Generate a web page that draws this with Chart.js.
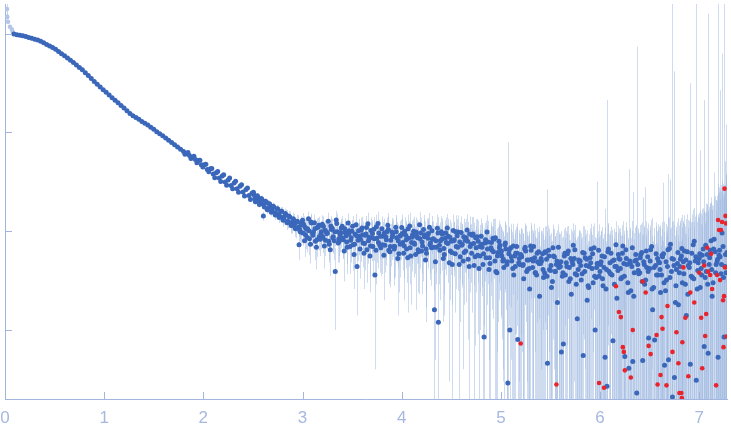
<!DOCTYPE html>
<html>
<head>
<meta charset="utf-8">
<script src="https://cdn.jsdelivr.net/npm/chart.js@4.4.0/dist/chart.umd.min.js"></script>
<style>
  html, body { margin: 0; padding: 0; background: #fff; }
  #wrap { width: 731px; height: 437px; }
</style>
</head>
<body>
<div id="wrap"><canvas id="chart"></canvas></div>
<script>
// axis ticks
const xTicks = [0, 1, 2, 3, 4, 5, 6, 7];
const yTicks = [1, 10, 100, 1000];

// excluded low-q points (drawn faded)
const qExcl = [0.02, 0.023, 0.03, 0.05, 0.07, 0.08];
const iExcl = [1780, 1480, 1320, 1175, 1100, 1030];
const eExcl = [260, 120, 60, 30, 15, 8];

// smooth part of the curve
const qSmooth = [
  0.09, 0.12, 0.15, 0.18, 0.21, 0.24, 0.27, 0.30, 0.33, 0.36,
  0.39, 0.42, 0.45, 0.48, 0.51, 0.54, 0.57, 0.60, 0.63, 0.66,
  0.69, 0.72, 0.75, 0.78, 0.81, 0.84, 0.87, 0.90, 0.93, 0.96,
  0.99, 1.02, 1.05, 1.08, 1.11, 1.14, 1.17, 1.20, 1.23, 1.26,
  1.29, 1.32, 1.35, 1.38, 1.41, 1.44, 1.47, 1.50, 1.53, 1.56,
  1.59, 1.62, 1.65, 1.68, 1.71, 1.74, 1.77, 1.80, 1.83, 1.86,
  1.89, 1.92, 1.95, 1.98, 2.01, 2.04, 2.07, 2.10, 2.13, 2.16,
  2.19, 2.22, 2.25, 2.28, 2.31, 2.34, 2.37, 2.40, 2.43, 2.46, 2.49
];
const iSmooth = [
  991, 977, 966, 953, 938, 918, 899, 881, 863, 841,
  809, 780, 752, 724, 695, 661, 628, 597, 569, 540,
  510, 483, 456, 432, 403, 377, 352, 329, 307, 288,
  271, 255, 240, 225, 212, 200, 188, 177, 166, 156,
  148, 142, 136, 129, 124, 119, 113, 108, 102, 97.3,
  92.5, 87.9, 83.4, 79.1, 75.0, 71.1, 67.5, 64.0, 61.1, 58.3,
  55.7, 53.2, 51.9, 47.0, 47.2, 42.1, 43.0, 38.0, 39.1, 34.6,
  36.2, 31.6, 33.1, 29.0, 30.8, 26.9, 28.6, 24.9, 26.5, 23.0, 24.3
];
const eSmooth = [
  6, 5, 5, 4, 4, 4, 4, 4, 3, 3,
  3, 3, 3, 3, 3, 3, 3, 2.5, 2.5, 2.5,
  2.5, 2.4, 2.3, 2.2, 2.1, 2, 1.9, 1.8, 1.7, 1.6,
  1.5, 1.5, 1.4, 1.4, 1.3, 1.3, 1.2, 1.2, 1.1, 1.1,
  1.0, 1.0, 1.0, 0.95, 0.95, 0.9, 0.9, 0.9, 0.85, 0.85,
  0.85, 0.8, 0.8, 0.8, 0.8, 0.8, 0.8, 0.8, 0.8, 0.8,
  0.8, 0.85, 0.85, 0.85, 0.9, 0.9, 0.9, 0.95, 0.95, 1.0,
  1.0, 1.0, 1.05, 1.05, 1.1, 1.1, 1.1, 1.15, 1.15, 1.2, 1.2
];
const qExtra = [
  1.815, 1.845, 1.875, 1.905, 1.935, 1.965, 1.995, 2.025, 2.055, 2.085,
  2.115, 2.145, 2.175, 2.205, 2.235, 2.265, 2.295, 2.325, 2.355, 2.385,
  2.415, 2.445, 2.475
];
const iExtra = [
  60.1, 62.8, 54.6, 57.3, 49.5, 52.4, 44.6, 47.6, 40.1, 43.2,
  34.8, 40.3, 31.8, 37.4, 29.2, 34.5, 26.9, 32.0, 24.8, 29.6,
  22.8, 27.4, 21.0
];
const eExtra = [
  0.8, 0.8, 0.8, 0.8, 0.8, 0.8, 0.8, 0.8, 0.8, 0.8,
  1.0, 1.0, 1.0, 1.0, 1.0, 1.0, 1.0, 1.0, 1.0, 1.0,
  1.0, 1.0, 1.0
];

// shoulder 2.5 - 3
const qMid = [
  2.51, 2.52, 2.53, 2.55, 2.56, 2.57, 2.59, 2.60, 2.61, 2.63,
  2.64, 2.65, 2.67, 2.68, 2.69, 2.71, 2.72, 2.73, 2.75, 2.76,
  2.77, 2.79, 2.80, 2.81, 2.83, 2.84, 2.85, 2.87, 2.88, 2.89,
  2.91, 2.92, 2.93, 2.95, 2.96, 2.97, 2.98, 2.99, 2.605, 2.965,
  2.505, 2.525, 2.545, 2.565, 2.585, 2.615, 2.625, 2.645, 2.665, 2.685,
  2.705, 2.725, 2.745, 2.765, 2.785, 2.805, 2.825, 2.845, 2.865, 2.885,
  2.905, 2.925, 2.945, 2.975, 2.985
];
const iMid = [
  23.4, 21.5, 20.8, 22.0, 20.2, 19.6, 21.0, 18.9, 18.5, 19.9,
  19.5, 17.0, 18.6, 17.9, 16.4, 17.5, 15.4, 15.0, 16.8, 15.0,
  14.2, 15.9, 13.8, 13.5, 14.8, 14.5, 12.6, 13.9, 12.2, 11.5,
  13.0, 11.8, 10.6, 12.4, 11.0, 10.5, 9.8, 11.6, 14.3, 7.3,
  24.8, 19.9, 22.9, 18.6, 21.5, 17.6, 20.1, 16.5, 19.0, 15.6,
  17.9, 14.6, 16.9, 13.8, 15.9, 12.9, 15.1, 12.2, 14.2, 11.4,
  13.4, 10.8, 12.6, 10.0, 12.0
];
const eMid = [
  1.2, 1.2, 1.2, 1.3, 1.3, 1.3, 1.3, 1.4, 1.4, 1.4,
  1.4, 1.5, 1.5, 1.5, 1.5, 1.6, 1.6, 1.6, 1.6, 1.7,
  1.7, 1.7, 1.8, 1.8, 1.8, 1.9, 1.9, 1.9, 2.0, 2.0,
  2.0, 2.1, 2.1, 2.1, 2.2, 2.2, 2.2, 2.2, 1.5, 2.2,
  1.2, 1.2, 1.3, 1.3, 1.3, 1.4, 1.4, 1.5, 1.5, 1.5,
  1.6, 1.6, 1.6, 1.7, 1.7, 1.8, 1.8, 1.9, 1.9, 2.0,
  2.0, 2.1, 2.1, 2.2, 2.2
];

// noisy tail, odd hundredths
const qTailA = [
  3.01, 3.03, 3.05, 3.07, 3.09, 3.11, 3.13, 3.15, 3.17, 3.19,
  3.21, 3.23, 3.25, 3.27, 3.29, 3.31, 3.33, 3.35, 3.37, 3.39,
  3.41, 3.43, 3.45, 3.47, 3.49, 3.51, 3.53, 3.55, 3.57, 3.59,
  3.61, 3.63, 3.65, 3.67, 3.69, 3.71, 3.73, 3.75, 3.77, 3.79,
  3.81, 3.83, 3.85, 3.87, 3.89, 3.91, 3.93, 3.95, 3.97, 3.99,
  4.01, 4.03, 4.05, 4.07, 4.09, 4.11, 4.13, 4.15, 4.17, 4.19,
  4.21, 4.23, 4.25, 4.27, 4.29, 4.31, 4.33, 4.35, 4.37, 4.39,
  4.41, 4.43, 4.45, 4.47, 4.49, 4.51, 4.53, 4.55, 4.57, 4.59,
  4.61, 4.63, 4.65, 4.67, 4.69, 4.71, 4.73, 4.75, 4.77, 4.79,
  4.81, 4.83, 4.85, 4.87, 4.89, 4.91, 4.93, 4.95, 4.97, 4.99,
  5.01, 5.03, 5.05, 5.07, 5.09, 5.11, 5.13, 5.15, 5.17, 5.19,
  5.21, 5.23, 5.25, 5.27, 5.29, 5.31, 5.33, 5.35, 5.37, 5.39,
  5.41, 5.43, 5.45, 5.47, 5.49, 5.51, 5.53, 5.55, 5.57, 5.59,
  5.61, 5.63, 5.65, 5.67, 5.69, 5.71, 5.73, 5.75, 5.77, 5.79,
  5.81, 5.83, 5.85, 5.87, 5.89, 5.91, 5.93, 5.95, 5.97, 5.99,
  6.01, 6.03, 6.05, 6.07, 6.09, 6.11, 6.13, 6.15, 6.17, 6.19,
  6.21, 6.23, 6.25, 6.27, 6.29, 6.31, 6.33, 6.35, 6.37, 6.39,
  6.41, 6.43, 6.45, 6.47, 6.49, 6.51, 6.53, 6.55, 6.57, 6.59,
  6.61, 6.63, 6.65, 6.67, 6.69, 6.71, 6.73, 6.75, 6.77, 6.79,
  6.81, 6.83, 6.85, 6.87, 6.89, 6.91, 6.93, 6.95, 6.97, 6.99,
  7.01, 7.03, 7.05, 7.07, 7.09, 7.11, 7.13, 7.15, 7.17, 7.19,
  7.21, 7.23, 7.25, 7.27
];
const iTailA = [
  11.8, 9.2, 10.6, 8.4, 12.1, 9.8, 7.9, 10.9, 8.8, 9.9,
  11.2, 8.1, 9.6, 7.4, 10.4, 8.8, 3.9, 9.9, 7.9, 10.8,
  8.2, 9.7, 6.9, 10.1, 8.6, 7.3, 9.3, 4.4, 8.9, 10.3,
  7.6, 9.1, 6.5, 8.7, 10.2, 7.0, 3.6, 8.5, 9.6, 6.8,
  8.9, 7.2, 9.9, 6.4, 8.1, 9.4, 7.0, 8.6, 5.9, 9.1,
  7.7, 10.0, 6.6, 8.5, 5.6, 9.2, 7.4, 8.9, 6.2, 9.6,
  7.1, 8.8, 6.0, 9.5, 7.6, 8.3, 1.6, 6.9, 1.2, 8.0,
  9.3, 5.8, 7.7, 8.9, 6.3, 4.6, 8.2, 7.0, 9.8, 5.5,
  7.4, 6.1, 8.6, 5.2, 7.0, 9.1, 4.5, 6.8, 7.9, 5.6,
  6.9, 0.85, 5.4, 7.8, 4.7, 6.4, 8.3, 3.9, 6.1, 7.2,
  5.6, 4.3, 6.6, 0.29, 1.0, 5.0, 3.6, 6.0, 0.8, 4.6,
  5.5, 3.3, 6.3, 4.1, 2.6, 5.2, 7.0, 3.8, 4.9, 2.2,
  5.0, 3.4, 6.1, 0.46, 4.1, 2.7, 5.6, 3.9, 1.9, 4.8,
  0.6, 0.72, 3.6, 5.9, 4.3, 2.3, 7.2, 3.7, 1.3, 4.9,
  3.2, 0.55, 5.4, 2.0, 4.4, 6.6, 3.0, 1.0, 4.7, 3.5,
  4.9, 2.8, 0.53, 0.27, 3.9, 6.0, 0.78, 4.4, 2.1, 5.3,
  3.3, 7.1, 0.54, 4.6, 0.41, 2.5, 0.48, 5.0, 0.23, 3.7,
  5.8, 0.49, 2.9, 4.3, 0.83, 6.5, 1.6, 0.79, 3.6, 4.9,
  2.4, 5.5, 0.44, 3.2, 0.50, 7.4, 0.21, 0.33, 4.1, 1.8,
  5.2, 3.0, 6.3, 1.4, 4.5, 0.45, 3.4, 7.9, 0.31, 4.8,
  2.7, 5.7, 0.68, 3.9, 0.58, 6.4, 2.2, 8.3, 4.6, 0.53,
  5.5, 9.6, 0.85, 3.8
];
const eTailA = [
  2.4, 2.6, 2.3, 2.7, 2.5, 2.2, 2.8, 2.6, 2.4, 2.7,
  2.9, 2.5, 2.8, 2.6, 3.0, 2.7, 2.9, 2.8, 3.1, 2.6,
  3.0, 2.8, 3.2, 2.9, 3.1, 3.3, 2.9, 3.0, 3.2, 3.4,
  3.3, 3.1, 3.5, 3.2, 3.6, 3.4, 3.2, 3.7, 3.5, 3.3,
  3.6, 3.4, 3.8, 3.5, 3.7, 3.9, 3.6, 3.8, 3.5, 4.0,
  3.7, 3.9, 3.6, 4.1, 3.8, 4.0, 3.7, 4.2, 3.9, 4.1,
  4.0, 3.8, 4.3, 4.1, 3.9, 4.2, 5.5, 4.0, 6.0, 4.3,
  4.2, 4.4, 4.1, 4.5, 4.3, 4.6, 4.2, 4.4, 4.7, 4.3,
  4.5, 4.3, 4.7, 4.4, 4.6, 4.8, 4.5, 4.4, 4.9, 4.6,
  4.7, 6.5, 4.6, 4.9, 4.7, 4.8, 5.0, 4.6, 4.9, 4.7,
  4.8, 4.6, 5.0, 79, 5.5, 4.9, 4.7, 5.1, 5.6, 4.8,
  4.9, 4.7, 5.1, 4.8, 5.0, 5.2, 4.9, 4.7, 5.0, 4.8,
  5.0, 4.8, 5.1, 26, 4.9, 5.2, 4.8, 5.0, 5.1, 4.9,
  5.5, 5.4, 4.9, 5.2, 5.0, 5.1, 4.8, 5.0, 5.3, 4.9,
  5.1, 5.6, 5.0, 5.2, 4.9, 5.3, 5.1, 5.0, 27, 5.2,
  5.2, 5.4, 16.3, 213, 5.5, 5.1, 5.8, 5.4, 5.6, 5.3,
  5.7, 5.5, 5.9, 5.6, 42, 6.0, 24.5, 5.9, 740, 5.8,
  6.0, 21.5, 25, 6.4, 6.2, 6.5, 6.3, 6.6, 6.4, 6.2,
  6.5, 25.5, 6.6, 7.0, 37, 26, 2000, 415, 7.0, 7.3,
  7.6, 7.9, 8.2, 8.0, 8.5, 315, 9.0, 9.3, 2000, 10,
  63, 11, 212, 12, 1600, 13, 14, 31, 16, 2000,
  262, 620, 2000, 116
];

// noisy tail, even hundredths (wider scatter)
const qTailB = [
  3.00, 3.02, 3.04, 3.06, 3.08, 3.10, 3.12, 3.14, 3.16, 3.18,
  3.20, 3.22, 3.24, 3.26, 3.28, 3.30, 3.32, 3.34, 3.36, 3.38,
  3.40, 3.42, 3.44, 3.46, 3.48, 3.50, 3.52, 3.54, 3.56, 3.58,
  3.60, 3.62, 3.64, 3.66, 3.68, 3.70, 3.72, 3.74, 3.76, 3.78,
  3.80, 3.82, 3.84, 3.86, 3.88, 3.90, 3.92, 3.94, 3.96, 3.98,
  4.00, 4.02, 4.04, 4.06, 4.08, 4.10, 4.12, 4.14, 4.16, 4.18,
  4.20, 4.22, 4.24, 4.26, 4.28, 4.30, 4.32, 4.34, 4.36, 4.38,
  4.40, 4.42, 4.44, 4.46, 4.48, 4.50, 4.52, 4.54, 4.56, 4.58,
  4.60, 4.62, 4.64, 4.66, 4.68, 4.70, 4.72, 4.74, 4.76, 4.78,
  4.80, 4.82, 4.84, 4.86, 4.88, 4.90, 4.92, 4.94, 4.96, 4.98,
  5.00, 5.02, 5.04, 5.06, 5.08, 5.10, 5.12, 5.14, 5.16, 5.18,
  5.20, 5.22, 5.24, 5.26, 5.28, 5.30, 5.32, 5.34, 5.36, 5.38,
  5.40, 5.42, 5.44, 5.46, 5.48, 5.50, 5.52, 5.54, 5.56, 5.58,
  5.60, 5.62, 5.64, 5.66, 5.68, 5.70, 5.72, 5.74, 5.76, 5.78,
  5.80, 5.82, 5.84, 5.86, 5.88, 5.90, 5.92, 5.94, 5.96, 5.98,
  6.00, 6.02, 6.04, 6.06, 6.08, 6.10, 6.12, 6.14, 6.16, 6.18,
  6.20, 6.22, 6.24, 6.26, 6.28, 6.30, 6.32, 6.34, 6.36, 6.38,
  6.40, 6.42, 6.44, 6.46, 6.48, 6.50, 6.52, 6.54, 6.56, 6.58,
  6.60, 6.62, 6.64, 6.66, 6.68, 6.70, 6.72, 6.74, 6.76, 6.78,
  6.80, 6.82, 6.84, 6.86, 6.88, 6.90, 6.92, 6.94, 6.96, 6.98,
  7.00, 7.02, 7.04, 7.06, 7.08, 7.10, 7.12, 7.14, 7.16, 7.18,
  7.20, 7.22, 7.24, 7.26, 7.28
];
const iTailB = [
  12.9, 8.0, 10.5, 13.4, 7.4, 9.6, 12.2, 6.9, 11.1, 8.3,
  11.8, 7.1, 9.9, 12.6, 6.5, 10.7, 8.0, 13.0, 7.6, 9.2,
  11.2, 6.3, 9.0, 12.1, 7.0, 10.0, 5.8, 11.6, 8.1, 6.6,
  10.8, 6.0, 9.4, 11.9, 5.6, 8.6, 10.5, 6.4, 12.0, 7.2,
  10.6, 5.7, 8.8, 11.5, 6.2, 9.8, 7.0, 11.0, 5.3, 8.9,
  10.9, 6.0, 9.1, 5.4, 11.3, 7.7, 10.0, 5.8, 8.6, 11.6,
  6.3, 10.4, 5.1, 9.3, 11.0, 6.8, 8.4, 4.9, 10.7, 7.2,
  9.9, 5.3, 8.5, 10.8, 4.8, 7.9, 10.2, 5.9, 9.0, 4.6,
  9.7, 5.0, 8.1, 10.3, 4.4, 7.4, 9.4, 5.5, 8.8, 4.2,
  8.9, 4.6, 7.6, 9.8, 4.1, 6.8, 8.5, 5.0, 3.8, 7.9,
  6.1, 5.0, 7.3, 4.6, 5.9, 6.8, 4.2, 5.6, 7.0, 4.8,
  5.8, 4.5, 6.6, 3.9, 5.1, 7.1, 4.3, 5.4, 3.6, 6.2,
  4.7, 5.9, 3.8, 5.2, 6.4, 4.0, 3.1, 5.5, 4.6, 6.9,
  4.4, 3.5, 5.6, 4.8, 6.3, 3.3, 4.9, 5.3, 2.9, 4.1,
  5.0, 3.7, 6.0, 4.5, 2.8, 5.4, 4.2, 6.8, 3.4, 4.7,
  3.9, 5.6, 4.3, 2.6, 6.2, 4.8, 3.6, 5.1, 7.3, 4.0,
  5.2, 3.4, 4.7, 6.5, 3.0, 5.0, 4.4, 2.2, 5.8, 4.6,
  3.8, 6.1, 4.9, 3.2, 5.5, 4.2, 7.0, 2.7, 4.5, 5.3,
  4.8, 3.6, 5.9, 2.5, 4.4, 6.7, 3.9, 5.2, 1.9, 4.7,
  3.8, 5.6, 4.9, 2.9, 6.2, 4.3, 3.5, 7.3, 5.0, 2.6,
  5.3, 4.2, 6.6, 3.4, 5.8, 4.6, 8.0, 3.0, 6.2, 4.9,
  5.7, 3.7, 7.0, 4.4, 6.1
];
const eTailB = [
  2.4, 2.5, 2.6, 2.4, 2.7, 2.5, 2.6, 2.8, 2.5, 2.7,
  2.7, 2.9, 2.6, 2.8, 3.0, 2.7, 2.9, 3.0, 2.8, 3.1,
  3.0, 3.2, 2.9, 3.1, 3.3, 3.0, 3.2, 3.4, 3.1, 3.3,
  3.2, 3.4, 3.3, 3.5, 3.2, 3.6, 3.4, 3.5, 3.7, 3.4,
  3.5, 3.7, 3.6, 3.8, 3.5, 3.9, 3.7, 3.6, 3.9, 3.8,
  3.8, 4.0, 3.7, 3.9, 4.1, 3.8, 4.0, 4.2, 3.9, 4.1,
  4.0, 4.2, 3.9, 4.1, 4.3, 4.0, 4.2, 4.4, 4.1, 4.3,
  4.3, 4.1, 4.4, 4.2, 4.5, 4.3, 4.6, 4.4, 4.2, 4.5,
  4.4, 4.6, 4.3, 4.5, 4.7, 4.4, 4.6, 4.8, 4.5, 4.7,
  4.6, 4.8, 4.5, 4.7, 4.9, 4.6, 4.8, 5.0, 4.7, 4.9,
  4.8, 4.7, 4.9, 5.0, 4.8, 5.1, 4.9, 4.7, 5.0, 4.8,
  4.9, 5.0, 4.8, 5.1, 4.9, 5.0, 5.2, 4.8, 5.0, 4.9,
  5.0, 4.9, 5.1, 4.8, 5.0, 5.2, 4.9, 5.1, 5.0, 4.8,
  5.0, 5.1, 4.9, 5.2, 5.0, 4.8, 5.1, 5.0, 5.2, 4.9,
  5.1, 5.0, 5.2, 4.9, 5.1, 5.3, 5.0, 5.2, 5.1, 5.3,
  5.2, 5.4, 5.1, 5.3, 5.5, 5.2, 5.4, 5.6, 5.3, 5.5,
  5.5, 5.7, 5.4, 5.8, 5.6, 5.9, 5.7, 6.0, 5.8, 6.1,
  6.0, 6.2, 6.4, 6.1, 6.5, 6.3, 6.6, 6.4, 6.7, 6.5,
  6.7, 6.9, 6.6, 7.1, 6.8, 7.2, 7.0, 7.4, 7.1, 7.5,
  7.6, 8.0, 7.8, 8.3, 8.6, 8.4, 8.9, 9.3, 9.1, 9.8,
  10, 11, 10.5, 12, 12.5, 13, 14, 15, 16.5, 18,
  19, 21, 23, 25, 27
];

// noisy tail, in-between points
const qTailC = [
  3.005, 3.025, 3.045, 3.065, 3.085, 3.105, 3.125, 3.145, 3.165, 3.185,
  3.205, 3.225, 3.245, 3.265, 3.285, 3.305, 3.325, 3.345, 3.365, 3.385,
  3.405, 3.425, 3.445, 3.465, 3.485, 3.505, 3.525, 3.545, 3.565, 3.585,
  3.605, 3.625, 3.645, 3.665, 3.685, 3.705, 3.725, 3.745, 3.765, 3.785,
  3.805, 3.825, 3.845, 3.865, 3.885, 3.905, 3.925, 3.945, 3.965, 3.985,
  4.005, 4.025, 4.045, 4.065, 4.085, 4.105, 4.125, 4.145, 4.165, 4.185,
  4.205, 4.225, 4.245, 4.265, 4.285, 4.305, 4.325, 4.345, 4.365, 4.385,
  4.405, 4.425, 4.445, 4.465, 4.485, 4.505, 4.525, 4.545, 4.565, 4.585,
  4.605, 4.625, 4.645, 4.665, 4.685, 4.705, 4.725, 4.745, 4.765, 4.785,
  4.805, 4.825, 4.845, 4.865, 4.885, 4.905, 4.925, 4.945, 4.965, 4.985,
  5.005, 5.025, 5.045, 5.065, 5.085, 5.105, 5.125, 5.145, 5.165, 5.185,
  5.205, 5.225, 5.245, 5.265, 5.285, 5.305, 5.325, 5.345, 5.365, 5.385,
  5.405, 5.425, 5.445, 5.465, 5.485, 5.505, 5.525, 5.545, 5.565, 5.585,
  5.605, 5.625, 5.645, 5.665, 5.685, 5.705, 5.725, 5.745, 5.765, 5.785,
  5.805, 5.825, 5.845, 5.865, 5.885, 5.905, 5.925, 5.945, 5.965, 5.985,
  6.005, 6.025, 6.045, 6.065, 6.085, 6.105, 6.125, 6.145, 6.165, 6.185,
  6.205, 6.225, 6.245, 6.265, 6.285, 6.305, 6.325, 6.345, 6.365, 6.385,
  6.405, 6.425, 6.445, 6.465, 6.485, 6.505, 6.525, 6.545, 6.565, 6.585,
  6.605, 6.625, 6.645, 6.665, 6.685, 6.705, 6.725, 6.745, 6.765, 6.785,
  6.805, 6.825, 6.845, 6.865, 6.885, 6.905, 6.925, 6.945, 6.965, 6.985,
  7.005, 7.025, 7.045, 7.065, 7.085, 7.105, 7.125, 7.145, 7.165, 7.185,
  7.205, 7.225, 7.245, 7.265
];
const iTailC = [
  9.6, 11.0, 8.7, 10.1, 12.4, 9.1, 10.6, 8.2, 11.5, 9.4,
  8.8, 10.3, 9.5, 7.9, 11.3, 8.6, 9.9, 12.0, 8.4, 9.7,
  8.5, 10.6, 7.8, 9.4, 8.1, 11.2, 7.4, 9.0, 10.1, 8.3,
  9.2, 7.5, 10.9, 8.0, 7.1, 9.5, 8.4, 11.1, 7.7, 8.9,
  7.3, 9.6, 8.2, 10.4, 7.0, 8.8, 6.6, 9.9, 8.0, 7.4,
  9.5, 7.1, 8.2, 10.6, 6.8, 8.7, 7.6, 9.8, 6.5, 8.4,
  7.8, 9.2, 6.6, 8.5, 7.3, 10.1, 6.9, 8.0, 9.6, 6.4,
  8.3, 6.7, 9.6, 7.5, 8.7, 6.1, 8.0, 9.9, 6.9, 7.8,
  7.2, 8.8, 6.3, 7.9, 9.4, 6.0, 7.5, 8.6, 5.7, 7.0,
  7.4, 5.9, 8.2, 6.6, 5.4, 7.7, 6.2, 8.6, 5.6, 6.8,
  6.3, 5.2, 7.6, 4.9, 6.5, 5.5, 7.1, 4.4, 6.0, 5.3,
  5.7, 4.6, 6.9, 5.1, 4.2, 6.4, 5.0, 3.8, 6.0, 4.7,
  5.3, 4.1, 6.2, 3.5, 5.6, 4.5, 6.8, 3.9, 5.0, 4.3,
  4.9, 3.8, 6.0, 4.4, 3.1, 5.3, 4.6, 6.5, 3.6, 5.1,
  4.5, 6.1, 3.9, 5.2, 2.7, 4.8, 5.9, 3.5, 4.3, 6.4,
  4.6, 3.3, 5.5, 4.1, 6.6, 3.7, 5.0, 2.9, 4.4, 5.8,
  4.2, 6.0, 3.5, 5.3, 2.4, 4.7, 6.8, 3.8, 5.1, 4.0,
  5.4, 3.1, 4.6, 6.3, 3.9, 5.0, 2.6, 4.3, 5.9, 3.6,
  4.1, 5.7, 3.0, 4.9, 6.5, 3.4, 5.3, 4.5, 2.8, 6.1,
  4.4, 6.7, 3.7, 5.1, 2.3, 4.8, 6.0, 3.3, 5.5, 4.0,
  5.9, 3.6, 4.9, 7.2, 2.9, 5.4, 4.1, 6.6, 3.8, 5.2,
  6.4, 4.6, 3.4, 5.8
];
const eTailC = [
  2.5, 2.4, 2.6, 2.5, 2.7, 2.4, 2.6, 2.7, 2.5, 2.8,
  2.8, 2.7, 2.9, 2.8, 3.0, 2.7, 2.9, 3.1, 2.8, 3.0,
  3.1, 3.0, 3.2, 3.0, 3.3, 3.1, 3.2, 3.3, 3.2, 3.4,
  3.3, 3.5, 3.4, 3.3, 3.6, 3.5, 3.4, 3.6, 3.5, 3.7,
  3.6, 3.8, 3.7, 3.6, 3.9, 3.7, 3.8, 3.9, 3.7, 4.0,
  3.9, 3.8, 4.0, 4.1, 3.9, 4.0, 4.2, 4.0, 4.1, 4.2,
  4.1, 4.0, 4.2, 4.3, 4.1, 4.2, 4.4, 4.2, 4.3, 4.4,
  4.3, 4.4, 4.2, 4.5, 4.4, 4.3, 4.5, 4.6, 4.4, 4.5,
  4.5, 4.6, 4.4, 4.6, 4.7, 4.5, 4.7, 4.6, 4.8, 4.6,
  4.7, 4.8, 4.6, 4.8, 4.9, 4.7, 4.9, 4.8, 5.0, 4.8,
  4.9, 4.8, 5.0, 4.9, 4.7, 5.0, 4.8, 5.1, 4.9, 5.0,
  5.0, 4.9, 5.1, 4.8, 5.0, 4.9, 5.1, 5.0, 4.8, 5.0,
  4.9, 5.1, 5.0, 4.8, 5.0, 5.1, 4.9, 5.0, 5.2, 4.9,
  5.1, 5.0, 4.9, 5.1, 5.0, 5.2, 4.9, 5.1, 5.0, 5.2,
  5.0, 5.2, 5.1, 5.0, 5.2, 5.1, 5.3, 5.2, 5.1, 5.3,
  5.3, 5.2, 5.4, 5.3, 5.5, 5.4, 5.3, 5.5, 5.4, 5.6,
  5.6, 5.5, 5.7, 5.6, 5.8, 5.7, 5.9, 5.8, 6.0, 5.9,
  6.1, 6.0, 6.2, 6.3, 6.2, 6.4, 6.3, 6.5, 6.4, 6.6,
  6.8, 6.7, 6.9, 7.0, 6.9, 7.1, 7.2, 7.1, 7.3, 7.4,
  7.7, 7.9, 8.1, 8.2, 8.5, 8.7, 8.8, 9.2, 9.4, 9.7,
  10.2, 10.8, 11.3, 11.9, 12.6, 13.4, 14.3, 15.5, 16.8, 18.5,
  20, 22, 24, 26
];

// flagged points (red)
const qRed = [
  5.20, 5.56, 5.99, 6.04, 6.16, 6.19, 6.21, 6.23, 6.24, 6.25,
  6.31, 6.33, 6.43, 6.46, 6.49, 6.51, 6.57, 6.58, 6.61, 6.62,
  6.63, 6.67, 6.68, 6.73, 6.77, 6.79, 6.80, 6.82, 6.825, 6.83,
  6.84, 6.86, 6.89, 6.91, 6.95, 7.00, 7.02, 7.03, 7.05, 7.06,
  7.07, 7.08, 7.09, 7.11, 7.12, 7.13, 7.17, 7.18, 7.19, 7.20,
  7.21, 7.22, 7.23, 7.24, 7.245, 7.25, 7.255, 7.26, 7.265, 7.27, 7.275
];
const iRed = [
  0.73, 0.28, 0.29, 0.26, 2.77, 1.52, 1.35, 0.67, 0.60, 0.39,
  0.33, 1.0, 3.1, 2.4, 0.69, 0.57, 0.89, 0.28, 0.35, 1.35,
  1.03, 0.275, 1.75, 0.60, 0.95, 0.46, 0.23, 0.23, 0.205, 0.75,
  4.3, 1.33, 0.34, 2.4, 1.9, 3.8, 1.33, 0.41, 4.5, 0.87,
  1.45, 6.8, 3.9, 3.6, 5.9, 2.6, 0.275, 3.6, 13, 10.3,
  3.2, 10.3, 12.4, 2.0, 0.67, 2.2, 27, 4.3, 14.3, 12, 0.86
];
const eRed = [
  5, 5, 5.2, 5.3, 5.5, 5.5, 5.6, 5.6, 5.7, 5.7,
  5.9, 6.0, 6.2, 6.3, 6.4, 6.4, 6.6, 6.7, 6.8, 6.8,
  6.9, 7.0, 7.0, 7.2, 7.4, 7.5, 7.6, 7.7, 7.7, 7.8,
  7.9, 8.1, 8.4, 8.6, 9.2, 10, 10.5, 10.7, 11, 11.2,
  11.5, 12, 12.3, 13, 13.5, 14, 16, 16.5, 17, 17.5,
  18, 19, 20, 21, 21, 22, 24, 23, 24, 25, 25
];

const axisColor = '#a2b5df';
const labelColor = '#a6b8df';

const toPoints = (qs, is, es) => qs.map((q, k) => ({ x: q, y: is[k], err: es[k] || 0 }));

const bluePoints = [].concat(
  toPoints(qSmooth, iSmooth, eSmooth),
  toPoints(qExtra, iExtra, eExtra),
  toPoints(qMid, iMid, eMid),
  toPoints(qTailA, iTailA, eTailA),
  toPoints(qTailB, iTailB, eTailB),
  toPoints(qTailC, iTailC, eTailC)
);

// vertical error bars under the points
const errorBars = {
  id: 'errorBars',
  beforeDatasetsDraw(chart) {
    const { ctx, chartArea, scales: { x, y } } = chart;
    ctx.save();
    ctx.beginPath();
    ctx.rect(chartArea.left, chartArea.top, chartArea.right - chartArea.left, chartArea.bottom - chartArea.top);
    ctx.clip();
    ctx.lineWidth = 1;
    chart.data.datasets.forEach(ds => {
      ctx.strokeStyle = ds.errorColor;
      ds.data.forEach(p => {
        if (!p.err) return;
        const px = Math.round(x.getPixelForValue(p.x)) + 0.5;
        const lo = p.y - p.err;
        const yLo = lo > y.min ? y.getPixelForValue(lo) : chartArea.bottom;
        const yHi = y.getPixelForValue(p.y + p.err);
        ctx.beginPath();
        ctx.moveTo(px, yLo);
        ctx.lineTo(px, yHi);
        ctx.stroke();
      });
    });
    ctx.restore();
  }
};

// tick marks pointing into the plot
const innerTicks = {
  id: 'innerTicks',
  afterDraw(chart) {
    const { ctx, chartArea, scales: { x, y } } = chart;
    ctx.save();
    ctx.strokeStyle = axisColor;
    ctx.lineWidth = 1;
    ctx.beginPath();
    x.ticks.forEach(t => {
      const px = Math.round(x.getPixelForValue(t.value)) + 0.5;
      ctx.moveTo(px, chartArea.bottom);
      ctx.lineTo(px, chartArea.bottom - 7);
    });
    y.ticks.forEach(t => {
      const py = Math.round(y.getPixelForValue(t.value)) + 0.5;
      ctx.moveTo(chartArea.left, py);
      ctx.lineTo(chartArea.left + 7, py);
    });
    ctx.stroke();
    ctx.restore();
  }
};

new Chart(document.getElementById('chart'), {
  type: 'scatter',
  data: {
    datasets: [
      {
        label: 'flagged',
        data: toPoints(qRed, iRed, eRed),
        backgroundColor: '#e8242c',
        errorColor: 'rgba(160, 186, 226, 0.5)',
        pointRadius: 2.3,
        borderWidth: 0,
        order: 0
      },
      {
        label: 'data',
        data: bluePoints,
        backgroundColor: '#3a67ba',
        errorColor: 'rgba(160, 186, 226, 0.5)',
        pointRadius: 2.5,
        borderWidth: 0,
        order: 1
      },
      {
        label: 'excluded',
        data: toPoints(qExcl, iExcl, eExcl),
        backgroundColor: '#b4c5e8',
        errorColor: 'rgba(180, 200, 232, 0.7)',
        pointRadius: 2.3,
        borderWidth: 0,
        order: 2
      }
    ]
  },
  options: {
    responsive: true,
    maintainAspectRatio: false,
    animation: false,
    events: [],
    layout: { padding: 0 },
    plugins: {
      legend: { display: false },
      tooltip: { enabled: false }
    },
    scales: {
      x: {
        type: 'linear',
        min: 0,
        max: 7.28,
        afterBuildTicks: s => { s.ticks = xTicks.map(v => ({ value: v })); },
        afterFit: s => { s.height = 38; s.paddingLeft = 0; s.paddingRight = 0; },
        grid: { drawOnChartArea: false, drawTicks: false },
        border: { color: axisColor, width: 1 },
        ticks: {
          color: labelColor,
          font: { family: "'Liberation Sans', Arial, sans-serif", size: 17 },
          padding: 9,
          maxRotation: 0,
          autoSkip: false
        }
      },
      y: {
        type: 'logarithmic',
        min: 0.2,
        max: 2000,
        afterBuildTicks: s => { s.ticks = yTicks.map(v => ({ value: v })); },
        afterFit: s => { s.width = 5; },
        grid: { drawOnChartArea: false, drawTicks: false },
        border: { color: axisColor, width: 1 },
        ticks: { display: false }
      }
    }
  },
  plugins: [errorBars, innerTicks]
});
</script>
</body>
</html>
